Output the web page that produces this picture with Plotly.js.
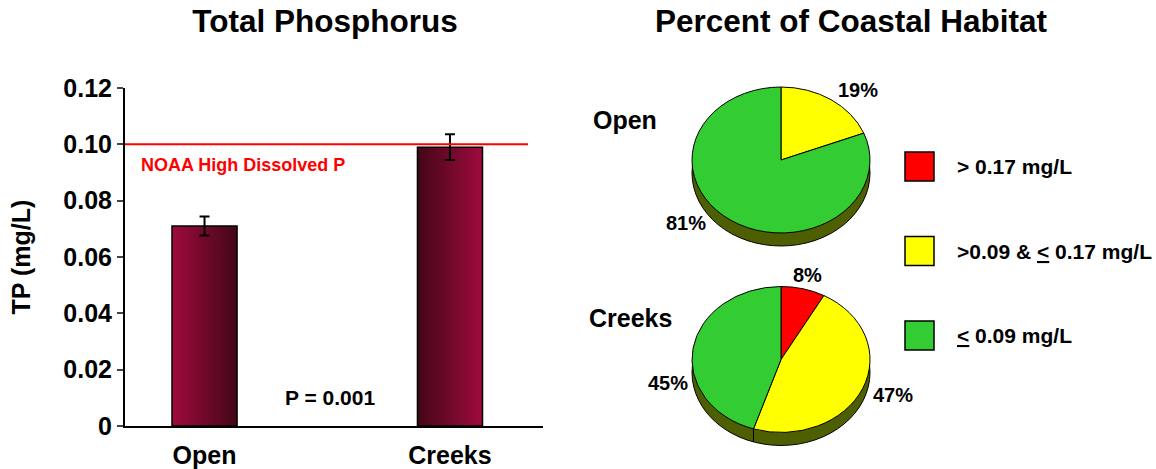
<!DOCTYPE html>
<html><head><meta charset="utf-8">
<script src="https://cdn.plot.ly/plotly-3.0.1.min.js"></script>
<style>html,body{margin:0;padding:0;background:#fff;} #chart{width:1156px;height:469px;}</style>
</head><body><div id="chart"></div>
<script>
// ---------------- data ----------------
const barCategories = ['Open', 'Creeks'];
const tpMeans = [0.071, 0.099];
const tpErrors = [0.0034, 0.0046];
const noaaThreshold = 0.10;
const noaaLabel = 'NOAA High Dissolved P';
const pValueText = 'P = 0.001';
const yTickVals = [0, 0.02, 0.04, 0.06, 0.08, 0.10, 0.12];
const yTickText = ['0', '0.02', '0.04', '0.06', '0.08', '0.10', '0.12'];

const habitatClasses = ['> 0.17 mg/L', '>0.09 & <u>&lt;</u> 0.17 mg/L', '<u>&lt;</u> 0.09 mg/L'];
const habitatColors = ['#ff0000', '#ffff00', '#33cc33'];
const pieNames = ['Open', 'Creeks'];
const openPercents = [0, 19, 81];
const creeksPercents = [8, 47, 45];

// ---------------- layout helpers ----------------
const W = 1156, H = 469;
const fx = x => x / W;
const fy = y => 1 - y / H;
const FONT = 'Liberation Sans, Arial, Helvetica, sans-serif';

const pieR = 89, squash = 0.82, rimDepth = 13, pieCx = 781;
const pieCy = [160, 359.5];
const pieSeries = [openPercents, creeksPercents];
const labelPos = [
  [[0, 0], [858, 90], [686, 223]],
  [[807, 275], [893, 395], [667.5, 383]]
];
const RIM = '#4d5f00';

function pieDomain(cy) {
  return { x: [fx(pieCx - pieR), fx(pieCx + pieR)], y: [fy(cy + pieR), fy(cy - pieR)] };
}

const data = [{
  type: 'bar', x: barCategories, y: tpMeans, width: 0.265,
  marker: { color: '#800a2e', line: { color: '#000', width: 1.5 } },
  error_y: { type: 'data', array: tpErrors, color: '#000', thickness: 2, width: 5 },
  hoverinfo: 'none', showlegend: false
}];

pieSeries.forEach((vals, i) => {
  data.push({
    type: 'pie', values: [1], labels: ['rim'], marker: { colors: [RIM], line: { color: '#000', width: 1 } },
    domain: pieDomain(pieCy[i] + rimDepth), textinfo: 'none', sort: false, showlegend: false, hoverinfo: 'none'
  });
  data.push({
    type: 'pie', values: vals, labels: habitatClasses, sort: false, direction: 'clockwise', rotation: 0,
    marker: { colors: habitatColors, line: { color: '#000', width: 1 } },
    domain: pieDomain(pieCy[i]), textinfo: 'none', showlegend: false, hoverinfo: 'none'
  });
});

function ann(text, x, y, size, xanchor, color) {
  return { text: text, xref: 'paper', yref: 'paper', x: fx(x), y: fy(y), xanchor: xanchor || 'center', yanchor: 'middle',
    showarrow: false, font: { size: size, color: color || '#000', family: FONT, weight: 'bold' } };
}

const annotations = [
  ann(noaaLabel, 139, 165, 18, 'left', '#ff0000'),
  ann(pValueText, 329.5, 397, 21),
  ann('Percent of Coastal Habitat', 851, 21, 31.5),
  ann(pieNames[0], 625, 120, 25),
  ann(pieNames[1], 630.5, 318, 25)
];
pieSeries.forEach((vals, i) => {
  vals.forEach((v, j) => {
    if (v > 0) annotations.push(ann(v + '%', labelPos[i][j][0], labelPos[i][j][1], 20));
  });
});
const legendY = [166.5, 251, 335.5];
const shapes = [
  { type: 'line', xref: 'paper', yref: 'y', x0: fx(125), x1: fx(528), y0: noaaThreshold, y1: noaaThreshold,
    line: { color: '#ff0000', width: 2 }, layer: 'above' }
];
habitatClasses.forEach((t, j) => {
  shapes.push({ type: 'rect', xref: 'paper', yref: 'paper', x0: fx(905), x1: fx(934), y0: fy(legendY[j] + 14.5), y1: fy(legendY[j] - 14.5),
    fillcolor: habitatColors[j], line: { color: '#000', width: 1.5 } });
  annotations.push(ann(t, 955, legendY[j], 21, 'left'));
});
// rim edge lines where slice boundaries reach the front of the pie
pieSeries.forEach((vals, i) => {
  const tot = vals.reduce((a, b) => a + b, 0);
  let cum = 0;
  vals.forEach((v, j) => {
    cum += v;
    if (j === vals.length - 1) return;
    const th = 2 * Math.PI * cum / tot;
    if (Math.cos(th) < 0) {
      const x = pieCx + pieR * Math.sin(th);
      const y = pieCy[i] - pieR * squash * Math.cos(th);
      shapes.push({ type: 'line', xref: 'paper', yref: 'paper', x0: fx(x), x1: fx(x), y0: fy(y), y1: fy(y + rimDepth),
        line: { color: '#000', width: 1 } });
    }
  });
});

const layout = {
  width: W, height: H, margin: { l: 0, r: 0, t: 0, b: 0 },
  paper_bgcolor: '#fff', plot_bgcolor: 'rgba(0,0,0,0)',
  font: { family: FONT, color: '#000', weight: 'bold' },
  title: { text: 'Total Phosphorus', x: fx(325), xanchor: 'center', y: fy(21), yanchor: 'middle',
    font: { size: 31.5, family: FONT, weight: 'bold' } },
  showlegend: false,
  xaxis: { domain: [fx(125), fx(543)], range: [-0.324, 1.379], type: 'category', showline: true, linewidth: 2,
    linecolor: '#000', ticks: '', showgrid: false, zeroline: false, tickfont: { size: 25 }, ticklabelstandoff: 6 },
  yaxis: { domain: [fy(426), fy(88)], range: [0, 0.12], tickvals: yTickVals, ticktext: yTickText,
    ticks: 'outside', ticklen: 6, tickwidth: 2, showline: true, linewidth: 2, linecolor: '#000',
    showgrid: false, zeroline: false, tickfont: { size: 25 },
    title: { text: 'TP (mg/L)', font: { size: 25 }, standoff: 26 } },
  annotations: annotations, shapes: shapes
};

const gd = document.getElementById('chart');
Plotly.newPlot(gd, data, layout, { staticPlot: true }).then(() => {
  const NS = 'http://www.w3.org/2000/svg';
  const svg = gd.querySelector('.main-svg');
  let defs = svg.querySelector('defs');
  if (!defs) { defs = document.createElementNS(NS, 'defs'); svg.insertBefore(defs, svg.firstChild); }
  function grad(id, c1, c2) {
    const g = document.createElementNS(NS, 'linearGradient');
    g.setAttribute('id', id); g.setAttribute('x1', '0'); g.setAttribute('x2', '1'); g.setAttribute('y1', '0'); g.setAttribute('y2', '0');
    [[0, c1], [1, c2]].forEach(([o, c]) => {
      const s = document.createElementNS(NS, 'stop'); s.setAttribute('offset', o); s.setAttribute('stop-color', c); g.appendChild(s);
    });
    defs.appendChild(g);
  }
  grad('gradOpen', '#a00a3d', '#420717');
  grad('gradCreeks', '#420717', '#a00a3d');
  const bars = gd.querySelectorAll('.barlayer .point path');
  if (bars[0]) bars[0].style.fill = 'url(#gradOpen)';
  if (bars[1]) bars[1].style.fill = 'url(#gradCreeks)';
  gd.querySelectorAll('.pielayer .trace').forEach(g => {
    const cd = g.__data__;
    const cy = cd && cd[0] && cd[0].cy;
    if (cy === undefined) return;
    g.setAttribute('transform', `translate(0,${cy}) scale(1,${squash}) translate(0,${-cy})`);
    g.querySelectorAll('path').forEach(p => p.setAttribute('vector-effect', 'non-scaling-stroke'));
  });
});
</script>
</body></html>
